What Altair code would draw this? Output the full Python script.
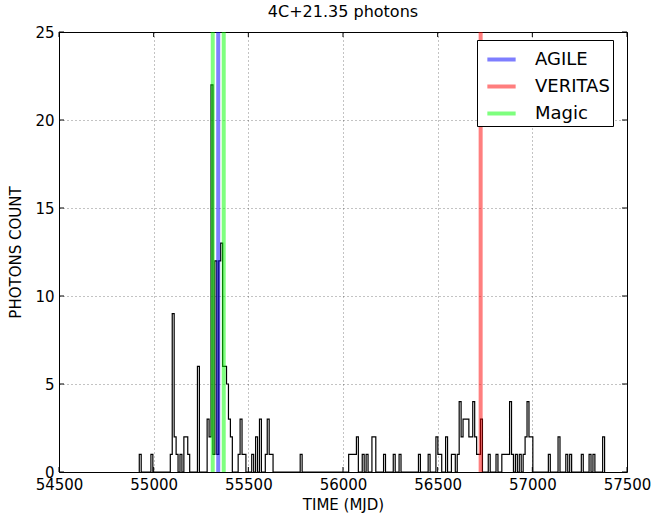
import altair as alt
import pandas as pd

# ---- histogram (step) data ----
first_edge = 54924.0
bin_width = 10.24
n_bins = 240
bin_index = [0, 6, 16, 17, 18, 19, 21, 23, 24, 25, 30,
             35, 36, 37, 38, 39, 40, 41, 42, 43, 44, 45, 46, 47,
             51, 52, 53, 54, 58, 60, 62, 65, 66, 67, 68, 83,
             108, 109, 110, 111, 112, 115, 117, 120, 121, 126, 131, 134, 144, 149,
             153, 154, 155, 158, 161, 162, 164, 165, 166, 167, 168, 169, 170,
             171, 172, 173, 174, 175, 176, 180, 184, 187, 188, 189, 190, 191,
             192, 194, 196, 198, 199, 200, 201, 202, 211, 216, 220, 222, 228,
             232, 234, 239]
bin_count = [1, 1, 1, 9, 2, 1, 1, 2, 2, 1, 6,
             3, 2, 22, 1, 12, 1, 12, 13, 6, 6, 5, 3, 2,
             1, 3, 1, 1, 1, 2, 3, 1, 3, 1, 1, 1,
             1, 1, 1, 1, 2, 1, 1, 2, 2, 1, 1, 1, 1, 1,
             2, 1, 1, 2, 1, 1, 1, 4, 2, 3, 3, 3, 2,
             2, 4, 2, 1, 1, 3, 1, 1, 1, 1, 1, 1, 4,
             1, 1, 1, 1, 2, 4, 2, 2, 1, 2, 1, 1, 1,
             1, 1, 2]

# ---- instrument lines ----
inst_name = ["AGILE", "VERITAS", "Magic", "Magic"]
inst_mjd = [55341, 56727, 55312, 55370]
inst_order = ["AGILE", "VERITAS", "Magic"]
inst_color = ["#0000ff", "#ff0000", "#00ff00"]

x_ticks = [54500, 55000, 55500, 56000, 56500, 57000, 57500]
y_ticks = [0, 5, 10, 15, 20, 25]

W, H = 568, 440

# build the step outline
counts = [0] * n_bins
for i, c in zip(bin_index, bin_count):
    counts[i] = c
edges = [first_edge + k * bin_width for k in range(n_bins + 1)]
pts = [{"x": edges[0], "y": 0, "o": 0}]
for k in range(n_bins):
    pts.append({"x": edges[k], "y": counts[k], "o": k + 1})
pts.append({"x": edges[n_bins], "y": 0, "o": n_bins + 1})
hist_df = pd.DataFrame(pts)

lines_df = pd.DataFrame({"inst": inst_name, "mjd": inst_mjd})
xt_df = pd.DataFrame({"v": x_ticks})
yt_df = pd.DataFrame({"v": y_ticks})

xscale = alt.Scale(domain=[54500, 57500], nice=False, zero=False)
yscale = alt.Scale(domain=[0, 25], nice=False)

font = "DejaVu Sans"

hist = alt.Chart(hist_df).mark_line(
    interpolate="step-after", color="black", strokeWidth=1.2
).encode(
    x=alt.X("x:Q", scale=xscale,
            axis=alt.Axis(values=x_ticks, format="d", title="TIME (MJD)",
                          grid=True, ticks=False, domain=False,
                          labelFlush=False, labelOverlap=False,
                          labelPadding=5, titlePadding=5)),
    y=alt.Y("y:Q", scale=yscale,
            axis=alt.Axis(values=y_ticks, format="d", title="PHOTONS COUNT",
                          grid=True, ticks=False, domain=False,
                          labelFlush=False, labelOverlap=False,
                          labelPadding=5, titlePadding=11)),
    order="o:Q",
)

vlines = alt.Chart(lines_df).mark_rule(strokeWidth=4, opacity=0.5).encode(
    x=alt.X("mjd:Q", scale=xscale),
    color=alt.Color("inst:N",
                    scale=alt.Scale(domain=inst_order, range=inst_color),
                    legend=alt.Legend(title=None, orient="none",
                                      legendX=418, legendY=8,
                                      symbolType="stroke", symbolSize=800,
                                      symbolStrokeWidth=4, symbolOpacity=0.5,
                                      symbolOffset=5,
                                      labelFontSize=18, labelFont=font,
                                      labelColor="black", labelOffset=17,
                                      rowPadding=1, padding=3,
                                      strokeColor="black", fillColor="white",
                                      cornerRadius=0)),
)

bt = alt.Chart(xt_df).mark_rule(color="black", strokeWidth=1).encode(
    x=alt.X("v:Q", scale=xscale), y=alt.value(H), y2=alt.value(H - 5))
tt = alt.Chart(xt_df).mark_rule(color="black", strokeWidth=1).encode(
    x=alt.X("v:Q", scale=xscale), y=alt.value(0), y2=alt.value(5))
lt = alt.Chart(yt_df).mark_rule(color="black", strokeWidth=1).encode(
    y=alt.Y("v:Q", scale=yscale), x=alt.value(0), x2=alt.value(5))
rt = alt.Chart(yt_df).mark_rule(color="black", strokeWidth=1).encode(
    y=alt.Y("v:Q", scale=yscale), x=alt.value(W), x2=alt.value(W - 5))

chart = alt.layer(hist, vlines, bt, tt, lt, rt).properties(
    width=W, height=H,
    title=alt.TitleParams("4C+21.35 photons", fontSize=16, font=font,
                          fontWeight="normal", color="black", offset=5),
    autosize=alt.AutoSizeParams(type="none"),
    padding={"left": 59, "top": 32, "right": 34, "bottom": 41},
).configure_view(
    stroke="black", strokeWidth=1
).configure_axis(
    labelFont=font, titleFont=font, labelFontSize=15, titleFontSize=15,
    labelColor="black", titleColor="black", titleFontWeight="normal",
    gridColor="black", gridOpacity=0.6, gridWidth=0.8, gridDash=[1, 3],
)

chart.save("out.html", embed_options={"renderer": "svg", "actions": False})
